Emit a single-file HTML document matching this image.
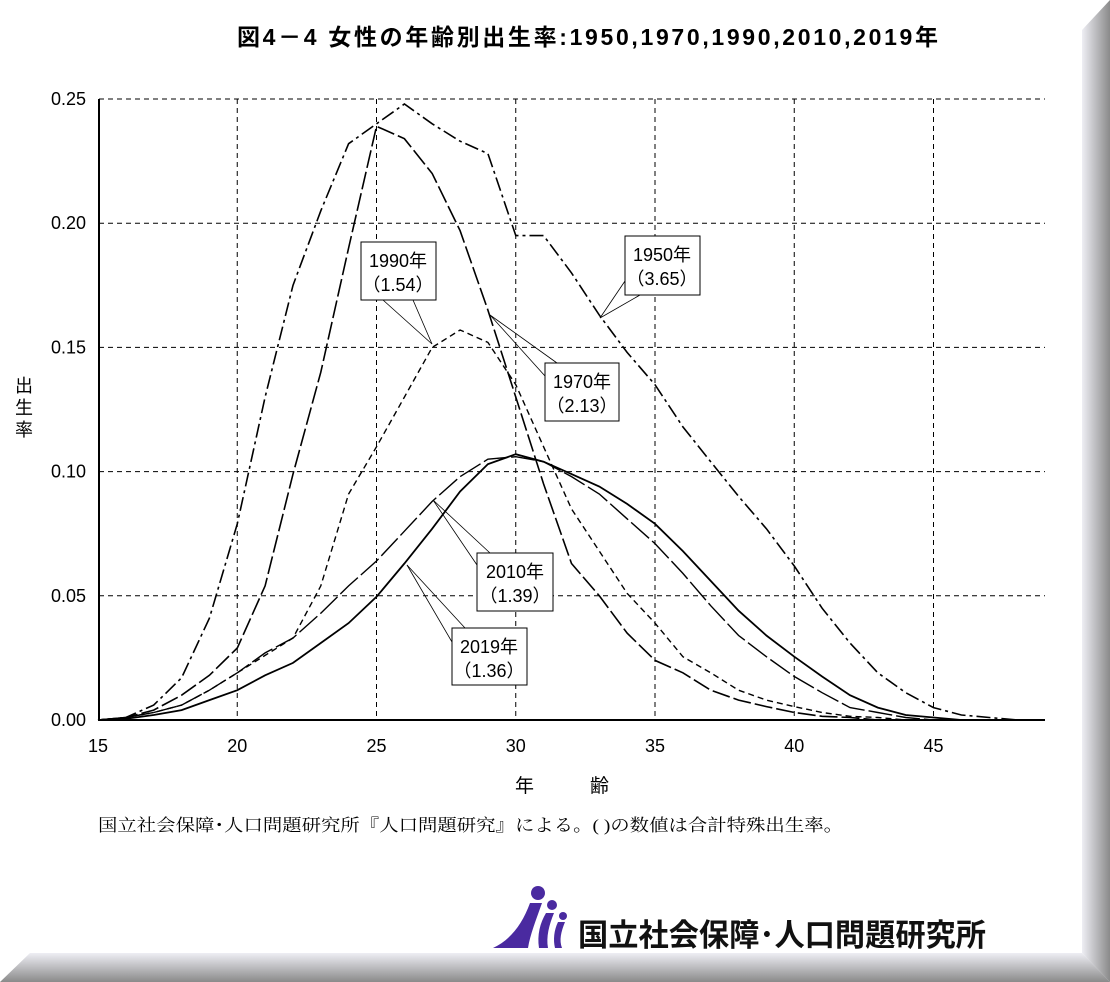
<!DOCTYPE html>
<html><head><meta charset="utf-8"><style>
body{margin:0;width:1110px;height:982px;background:#fff;overflow:hidden;position:relative;font-family:"Liberation Sans","Noto Sans CJK JP",sans-serif}
</style></head><body>
<svg id="s" width="1110" height="982" style="position:absolute;left:0;top:0" font-family="Liberation Sans, Noto Sans CJK JP, sans-serif">
<defs>
<linearGradient id="gr" x1="0" x2="1" y1="0" y2="0"><stop offset="0" stop-color="#eeeef4"/><stop offset="1" stop-color="#8a8a8a"/></linearGradient>
<linearGradient id="gb" x1="0" x2="0" y1="0" y2="1"><stop offset="0" stop-color="#eeeef4"/><stop offset="1" stop-color="#8a8a8a"/></linearGradient>
</defs>
<polygon points="1082,30 1110,0 1110,982 1082,953" fill="url(#gr)"/>
<polygon points="30,953 1082,953 1110,982 0,982" fill="url(#gb)"/>
<text x="237" y="45" font-size="23" font-weight="bold" textLength="701" lengthAdjust="spacing">図4－4 女性の年齢別出生率:1950,1970,1990,2010,2019年</text>
<g id="grid" stroke="#000" stroke-width="1" stroke-dasharray="5,4" fill="none"></g>
<g id="lab" font-size="18"></g>
<g id="curves" fill="none" stroke="#000"></g>
<g id="callouts" stroke="#000" stroke-width="0.8" fill="none"></g>
<g font-size="18" text-anchor="middle">
<rect x="361" y="242" width="75" height="58" fill="#fff" stroke="#000"/><text x="398" y="267">1990年</text><text x="398" y="291">（1.54）</text>
<rect x="625" y="236" width="75" height="59" fill="#fff" stroke="#000"/><text x="662" y="261">1950年</text><text x="662" y="285">（3.65）</text>
<rect x="545" y="363" width="74" height="58" fill="#fff" stroke="#000"/><text x="582" y="388">1970年</text><text x="582" y="412">（2.13）</text>
<rect x="477" y="553" width="76" height="58" fill="#fff" stroke="#000"/><text x="515" y="578">2010年</text><text x="515" y="602">（1.39）</text>
<rect x="452" y="628" width="75" height="57" fill="#fff" stroke="#000"/><text x="489" y="653">2019年</text><text x="489" y="677">（1.36）</text>
</g>
<text x="24" y="392" font-size="18" text-anchor="middle">出</text>
<text x="24" y="414" font-size="18" text-anchor="middle">生</text>
<text x="24" y="436" font-size="18" text-anchor="middle">率</text>
<text x="515" y="792" font-size="19">年</text><text x="590" y="792" font-size="19">齢</text>
<text x="98" y="831" font-size="17" font-family="Liberation Serif, Noto Serif CJK SC, serif" textLength="745" lengthAdjust="spacingAndGlyphs">国立社会保障･人口問題研究所『人口問題研究』による。( )の数値は合計特殊出生率。</text>
<g fill="#4a2aa0">
<circle cx="538" cy="893" r="7"/><circle cx="552" cy="905" r="5"/><circle cx="563" cy="916" r="4"/>
<path d="M530,903 L542,903 C536,920 530,935 528,948 L493,948 C510,940 522,925 530,903Z"/>
<path d="M546,913 L554,913 C549,925 546,937 548,948 L539,948 C537,935 540,923 546,913Z"/>
<path d="M558,922 L565,922 C561,932 559,940 562,948 L555,948 C553,940 554,930 558,922Z"/>
</g>
<text x="578" y="946" font-size="31" font-weight="bold" fill="#111" textLength="408" lengthAdjust="spacingAndGlyphs">国立社会保障･人口問題研究所</text>
</svg>
<script>
var X=a=>98+27.85*(a-15),Y=v=>720-2484*v,NS="http://www.w3.org/2000/svg";
function el(p,t,at,tx){var e=document.createElementNS(NS,t);for(var k in at)e.setAttribute(k,at[k]);if(tx)e.textContent=tx;document.getElementById(p).appendChild(e);}
for(var a=20;a<=45;a+=5)el('grid','line',{x1:X(a),x2:X(a),y1:99,y2:720});
for(var i=1;i<=5;i++)el('grid','line',{x1:99,x2:1045,y1:Y(i*.05),y2:Y(i*.05)});
el('grid','line',{x1:99,x2:99,y1:99,y2:720,'stroke-dasharray':'none','stroke-width':2});
el('grid','line',{x1:99,x2:1045,y1:720,y2:720,'stroke-dasharray':'none','stroke-width':2});
for(var i=0;i<=5;i++)el('lab','text',{x:86,y:Y(i*.05)+6,'text-anchor':'end'},(i*.05).toFixed(2));
for(var a=15;a<=45;a+=5)el('lab','text',{x:X(a),y:752,'text-anchor':'middle'},a);
var D={
a:[[0,.001,.006,.017,.041,.079,.13,.175,.205,.232,.24,.248,.24,.233,.228,.195,.195,.18,.163,.148,.135,.118,.104,.09,.077,.062,.045,.031,.019,.011,.005,.002,.001,0,0],'14,4,3,4',1.6],
b:[[0,.001,.004,.01,.018,.029,.054,.099,.14,.19,.239,.234,.22,.197,.165,.13,.095,.063,.05,.035,.024,.019,.012,.008,.0054,.003,.0015,.001,0,0,0,0,0,0,0],'18,4',1.6],
c:[[0,.001,.003,.006,.012,.019,.026,.033,.054,.091,.11,.13,.15,.157,.152,.135,.11,.085,.068,.051,.039,.0255,.019,.012,.008,.0054,.003,.0015,.001,0,0,0,0,0,0],'6,4',1.4],
d:[[0,.001,.003,.006,.012,.019,.027,.033,.043,.054,.064,.076,.088,.098,.105,.106,.104,.098,.091,.081,.071,.059,.046,.034,.0255,.0175,.011,.005,.003,.001,0,0,0,0,0],'24,4',1.4],
e:[[0,.0005,.002,.004,.008,.012,.018,.023,.031,.039,.0496,.063,.077,.092,.103,.107,.104,.099,.094,.087,.079,.068,.056,.044,.034,.0255,.0175,.01,.005,.002,.001,0,0,0,0],'none',1.8]};
for(var k in D){var p=D[k][0].map((v,i)=>X(15+i).toFixed(1)+','+Y(v).toFixed(1)).join(' ');el('curves','polyline',{points:p,'stroke-dasharray':D[k][1],'stroke-width':D[k][2]});}
[[432,344,383,300],[432,344,413,300],[600,318,625,281],[600,318,640,295],[490,315,557,363],[490,315,545,376],[433,500,490,553],[433,500,477,565],[407,565,465,628],[407,565,452,642]].forEach(l=>el('callouts','line',{x1:l[0],y1:l[1],x2:l[2],y2:l[3]}));
</script>
</body></html>
